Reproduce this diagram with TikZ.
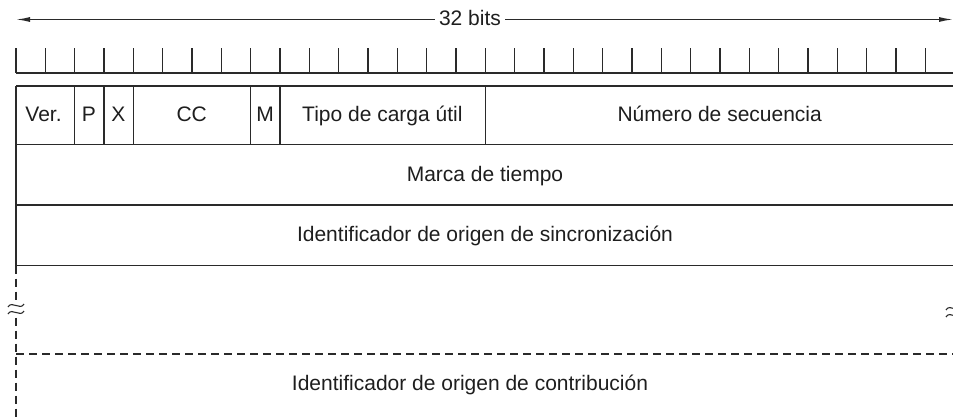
\documentclass[tikz,border=0pt]{standalone}
\usepackage{fontspec}
\setmainfont{Liberation Sans}
\usetikzlibrary{arrows.meta}
\definecolor{ink}{HTML}{2A2A2A}
\definecolor{txt}{HTML}{1E1E1E}
\begin{document}
\begin{tikzpicture}[x=1pt,y=-1pt,
  rule/.style={draw=ink,line width=1.3pt},
  dashrule/.style={draw=ink,line width=1.3pt,dash pattern=on 8pt off 5pt},
  fieldtext/.style={font=\fontsize{21}{24}\selectfont,text=txt,inner sep=0pt,text height=15pt,text depth=2pt},
  breakmark/.style={draw=ink,line width=1.1pt}]
\useasboundingbox (0,0) rectangle (953,420);
\clip (0,0) rectangle (953,420);
% 32 bits arrow
\node[fieldtext,inner xsep=4pt] (bits) at (470,19.5) {32 bits};
\coordinate (al) at (16,19.5);
\coordinate (ar) at (953,19.5);
\draw[rule,-{Latex[length=14pt,width=5pt]}] (bits.west) -- (al);
\draw[rule,-{Latex[length=14pt,width=5pt]}] (bits.east) -- (ar);
% bit scale
\draw[rule] (16,73) -- (953,73);
\foreach \k in {0,...,32} {
  \draw[rule] ({16+29.33*\k},48.3) -- ({16+29.33*\k},73);
}
% header rows
\def\R{954.4}
\draw[rule] (16,86) -- (953,86);
\draw[rule] (16,144.3) -- (953,144.3);
\draw[rule] (16,205) -- (953,205);
\draw[rule] (16,265.7) -- (953,265.7);
\draw[rule] (16,86) -- (16,265.7);
\draw[rule] (\R,86) -- (\R,265.7);
\foreach \b in {2,3,4,8,9,16} {
  \draw[rule] ({16+29.33*\b},86) -- ({16+29.33*\b},144.3);
}
% dashed part
\draw[dashrule] (16,265.7) -- (16,420);
\draw[dashrule] (\R,265.7) -- (\R,420);
\draw[dashrule] (16,354) -- (953,354);
% break marks
\fill[white] (8,303.5) rectangle (24,315.5);
\draw[breakmark] (8,307) .. controls (12,300) and (20,311) .. (24,304);
\draw[breakmark] (8,314) .. controls (12,307) and (20,318) .. (24,311);
\fill[white] (946,306.5) rectangle (962,318.5);
\draw[breakmark] (946,310) .. controls (950,303) and (958,314) .. (962,307);
\draw[breakmark] (946,317) .. controls (950,310) and (958,321) .. (962,314);
% labels
\node[fieldtext] (ver) at (43.5,115.2) {Ver.};
\node[fieldtext] (p) at (89,115.2) {P};
\node[fieldtext] (x) at (118.3,115.2) {X};
\node[fieldtext] (cc) at (191.7,115.2) {CC};
\node[fieldtext] (m) at (265,115.2) {M};
\node[fieldtext] (tipo) at (382.4,115.2) {Tipo de carga útil};
\node[fieldtext] (num) at (719.7,115.2) {Número de secuencia};
\node[fieldtext] (marca) at (485,174.7) {Marca de tiempo};
\node[fieldtext] (ssrc) at (485,235.3) {Identificador de origen de sincronización};
\node[fieldtext] (csrc) at (470,383.5) {Identificador de origen de contribución};
\end{tikzpicture}
\end{document}
